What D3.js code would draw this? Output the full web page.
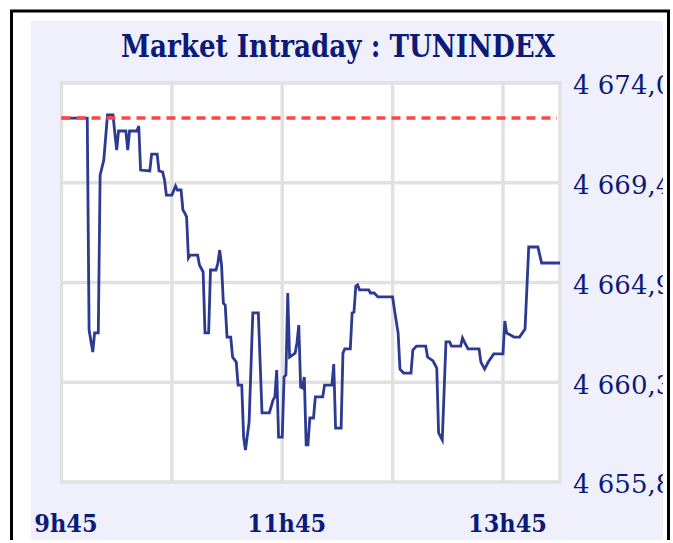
<!DOCTYPE html>
<html>
<head>
<meta charset="utf-8">
<script src="https://cdn.jsdelivr.net/npm/d3@7"></script>
<style>
body { margin: 0; background: #fff; }
svg { display: block; }
</style>
</head>
<body>
<script>
let width = 673, height = 543
let plot = {left: 61.5, right: 560, top: 83, bottom: 482}
let navy = '#0c1a7a'

// TUNINDEX intraday quotes
let times = ['9:45','9:59','10:00','10:02','10:03','10:05','10:06','10:08','10:10','10:13',
    '10:14','10:15','10:16','10:20','10:21','10:22','10:26','10:27','10:28','10:33',
    '10:34','10:37','10:38','10:40','10:41','10:42','10:45','10:47','10:48','10:50',
    '10:51','10:52','10:53','10:54','10:55','10:59','11:00','11:02','11:03','11:05',
    '11:06','11:09','11:10','11:11','11:12','11:13','11:14','11:15','11:17','11:18',
    '11:20','11:21','11:23','11:24','11:25','11:27','11:29','11:32','11:34','11:38',
    '11:40','11:41','11:42','11:43','11:45','11:46','11:47','11:48','11:49','11:52',
    '11:53','11:54','11:55','11:56','11:57','11:58','11:59','12:00','12:02','12:03',
    '12:07','12:08','12:12','12:13','12:14','12:17','12:18','12:19','12:22','12:23',
    '12:24','12:25','12:26','12:27','12:32','12:33','12:35','12:37','12:45','12:46',
    '12:48','12:49','12:51','12:55','12:56','12:58','13:03','13:04','13:07','13:09',
    '13:10','13:12','13:14','13:16','13:17','13:22','13:23','13:24','13:26','13:32',
    '13:33','13:35','13:37','13:40','13:45','13:46','13:47','13:51','13:54','13:57',
    '13:59','14:04','14:05','14:06','14:16']
let values = [4672.40,4672.40,4662.73,4661.73,4662.60,4662.60,4669.80,4670.49,4672.54,4672.54,
    4671.72,4670.94,4671.81,4671.81,4670.94,4671.81,4671.81,4672.04,4670.03,4669.99,
    4670.76,4670.76,4669.99,4669.94,4669.58,4668.89,4668.89,4669.30,4669.12,4669.12,
    4668.21,4668.07,4667.89,4666.02,4666.15,4666.15,4665.70,4665.38,4662.60,4662.60,
    4665.47,4665.47,4665.79,4666.38,4665.70,4663.96,4663.87,4662.41,4662.41,4661.50,
    4661.27,4660.22,4660.22,4657.85,4657.26,4658.54,4663.51,4663.51,4658.95,4658.95,
    4659.54,4659.68,4660.91,4657.85,4657.85,4660.59,4660.68,4664.42,4661.50,4661.68,
    4662.14,4662.96,4660.13,4660.09,4660.59,4657.49,4657.49,4658.72,4658.72,4659.68,
    4659.68,4660.22,4660.22,4661.18,4658.26,4658.26,4661.68,4661.87,4661.87,4663.51,
    4663.55,4664.74,4664.79,4664.56,4664.56,4664.42,4664.42,4664.24,4664.24,4663.65,
    4662.60,4660.95,4660.77,4660.77,4661.82,4662.00,4662.00,4661.50,4661.32,4661.00,
    4658.04,4657.72,4662.19,4662.19,4662.00,4662.00,4662.37,4662.19,4661.87,4661.87,
    4661.27,4660.95,4661.27,4661.64,4661.64,4663.14,4662.60,4662.41,4662.41,4662.78,
    4666.52,4666.52,4666.15,4665.79,4665.79]
let prevClose = 4672.40

let yTicks = [4655.8, 4660.35, 4664.9, 4669.45, 4674.0]
let yTickLabels = ['4 655,8', '4 660,3', '4 664,9', '4 669,4', '4 674,0']
let xTicks = ['9:45', '10:45', '11:45', '12:45', '13:45']
let xTickLabels = ['9h45', '', '11h45', '', '13h45']
let xDomain = ['9:45', '14:16']

let parseTime = d3.timeParse('%H:%M')
let data = times.map((t, i) => ({t: parseTime(t), v: values[i]}))

let x = d3.scaleTime()
    .domain(xDomain.map(parseTime))
    .range([plot.left, plot.right])
let y = d3.scaleLinear()
    .domain([yTicks[0], yTicks[yTicks.length - 1]])
    .range([plot.bottom, plot.top])

let svg = d3.select('body').append('svg')
    .attr('width', width)
    .attr('height', height)

// outer frame and panel
svg.append('path')
    .attr('d', 'M11.5,540 V11 H668.5 V540')
    .attr('fill', 'none')
    .attr('stroke', '#000')
    .attr('stroke-width', 3)
svg.append('rect')
    .attr('x', 31).attr('y', 21)
    .attr('width', 632).attr('height', 519)
    .attr('fill', '#f0f0fc')

svg.append('clipPath').attr('id', 'panel')
    .append('rect')
    .attr('x', 31).attr('y', 21)
    .attr('width', 632).attr('height', 522)

svg.append('text')
    .attr('x', 338).attr('y', 57)
    .attr('text-anchor', 'middle')
    .attr('textLength', 434)
    .attr('lengthAdjust', 'spacingAndGlyphs')
    .style('font-family', '"DejaVu Serif", serif')
    .style('font-weight', 'bold')
    .style('font-size', '31px')
    .attr('fill', navy)
    .text('Market Intraday : TUNINDEX')

// plot background
svg.append('rect')
    .attr('x', plot.left).attr('y', plot.top)
    .attr('width', plot.right - plot.left)
    .attr('height', plot.bottom - plot.top)
    .attr('fill', '#fff')

// grid
let grid = svg.append('g').attr('class', 'grid')
grid.selectAll('line.h')
    .data(yTicks.slice(1, -1))
    .enter().append('line')
    .attr('x1', plot.left).attr('x2', plot.right)
    .attr('y1', d => y(d)).attr('y2', d => y(d))
grid.selectAll('line.v')
    .data(xTicks.slice(1).map(parseTime))
    .enter().append('line')
    .attr('x1', d => x(d)).attr('x2', d => x(d))
    .attr('y1', plot.top).attr('y2', plot.bottom)
grid.append('rect')
    .attr('x', plot.left).attr('y', plot.top)
    .attr('width', plot.right - plot.left)
    .attr('height', plot.bottom - plot.top)
    .attr('fill', 'none')
grid.selectAll('line, rect')
    .attr('stroke', '#e1e1e1')
    .attr('stroke-width', 3.5)

// index line
let line = d3.line()
    .x(d => x(d.t))
    .y(d => y(d.v))
svg.append('path')
    .datum(data)
    .attr('d', line)
    .attr('fill', 'none')
    .attr('stroke', '#2c3a92')
    .attr('stroke-width', 2.8)
    .attr('stroke-linejoin', 'miter')

// previous close
svg.append('line')
    .attr('x1', x(parseTime(xDomain[0]))).attr('x2', plot.right - 3)
    .attr('y1', y(prevClose)).attr('y2', y(prevClose))
    .attr('stroke', '#ff4545')
    .attr('stroke-width', 3.5)
    .attr('stroke-dasharray', '9,6')

// axes
let yAxis = svg.append('g')
    .attr('clip-path', 'url(#panel)')
    .append('g')
    .attr('transform', 'translate(' + plot.right + ',0)')
    .call(d3.axisRight(y)
        .tickValues(yTicks)
        .tickSize(0)
        .tickPadding(13)
        .tickFormat((d, i) => yTickLabels[i]))
yAxis.select('.domain').remove()
yAxis.selectAll('text')
    .attr('dy', '0.42em')
    .attr('fill', navy)
    .style('font-family', '"DejaVu Serif", serif')
    .style('font-size', '26px')

let xAxis = svg.append('g')
    .attr('transform', 'translate(0,' + plot.bottom + ')')
    .call(d3.axisBottom(x)
        .tickValues(xTicks.map(parseTime))
        .tickSize(0)
        .tickFormat((d, i) => xTickLabels[i]))
xAxis.select('.domain').remove()
xAxis.selectAll('text')
    .attr('y', 50)
    .attr('dy', 0)
    .attr('dx', 4)
    .attr('fill', navy)
    .style('font-family', '"DejaVu Serif", serif')
    .style('font-weight', 'bold')
    .style('font-size', '25px')
    .style('font-stretch', 'condensed')
</script>
</body>
</html>
